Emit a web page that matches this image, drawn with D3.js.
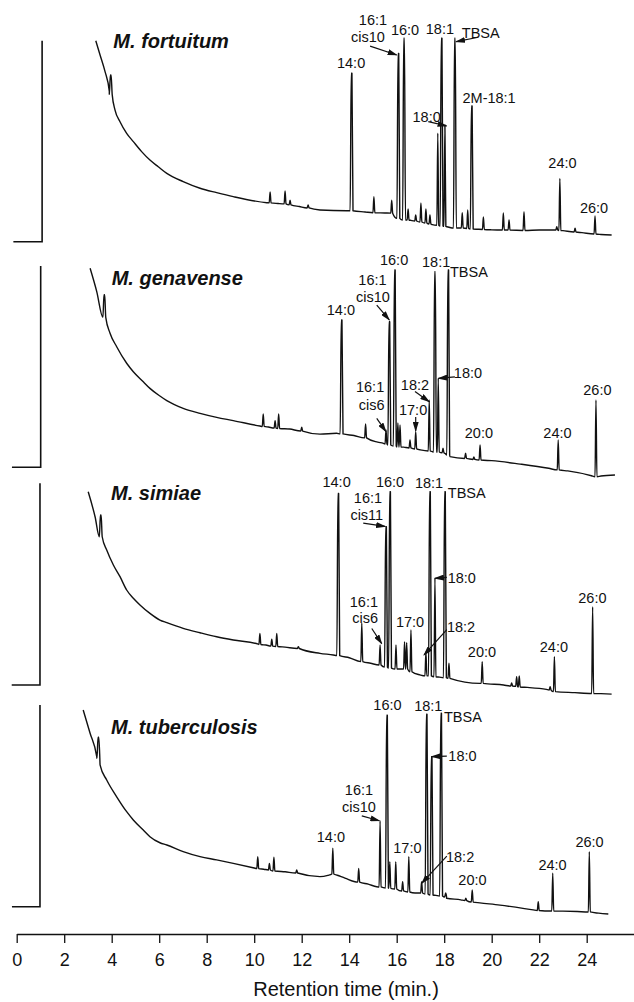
<!DOCTYPE html>
<html>
<head>
<meta charset="utf-8">
<script src="https://cdn.jsdelivr.net/npm/d3@7"></script>
<style>
  body { margin: 0; background: #fff; }
  text { font-family: "Liberation Sans", Arial, Helvetica, sans-serif; fill: #111; }
</style>
</head>
<body>
<div id="chart"></div>
<script>
// ---- data (retention time in min, detector signal in % of panel full scale) ----
const species = ["M. fortuitum", "M. genavense", "M. simiae", "M. tuberculosis"];
const timeTicks = [0, 2, 4, 6, 8, 10, 12, 14, 16, 18, 20, 22, 24];

// solvent step at the start of each run: [start time, step time]
const solventStep = [[-0.14, 1.07], [-0.2, 1.01], [-0.21, 0.98], [-0.2, 0.98]];

// baseline (solvent tail): [time, signal]
const fortuitumCurve = [[3.33,100],[3.51,92.9],[3.72,84.6],[3.9,74.8],[4.14,65.5],[4.35,59.7],[4.63,53.9],[4.91,49.8],[5.26,44.8],[5.61,40.6],[5.96,37.3],[6.32,34.0],[7.01,29.9],[7.72,26.6],[8.42,24.4],[9.12,22.4],[10.53,19.4],[11.0,19.0],[11.9,17.5],[12.77,15.8],[13.9,15.4],[14.67,14.8],[15.5,14.3],[16.6,10.6],[17.5,8.5],[18.2,7.2],[19.4,6.2],[20.0,5.9],[22.0,5.8],[23.0,5.5],[23.8,4.5],[24.6,3.6],[25.05,3.3]];
const genavenseCurve = [[3.09,98.9],[3.37,87.3],[3.93,66.6],[4.21,59.9],[4.63,51.7],[4.91,47.5],[5.33,42.5],[5.61,39.2],[6.03,35.4],[6.32,33.1],[7.01,29.3],[7.72,26.8],[8.42,24.8],[9.12,23.2],[10.24,20.5],[10.6,20],[11.5,19],[12.77,16.5],[13.47,16.9],[14.2,15.8],[15.2,12.5],[15.44,11.9],[16.3,10],[16.98,8.7],[17.5,7.8],[18.05,6.8],[18.24,5.3],[19.0,4.3],[20.0,3.3],[21.2,1.6],[22.4,-0.5],[23.2,-1.8],[24.2,-4.2],[24.6,-4.3],[25.19,-3.8]];
const simiaeCurve = [[3.01,95.8],[3.30,83.4],[3.79,66.9],[4.07,59.5],[4.35,53.7],[4.63,47.1],[4.91,43.0],[5.19,39.7],[5.61,35.5],[6.03,32.2],[6.32,30.9],[7.01,28.1],[7.72,25.9],[8.42,23.9],[9.12,22.3],[10.17,20.3],[10.5,19.8],[11.3,18.8],[12.77,15.7],[13.33,14.9],[14.0,13.5],[14.9,10.8],[16.0,7.9],[16.98,5],[17.8,3.9],[18.17,3.3],[19.5,0.8],[20.5,0],[21.5,-1.2],[22.3,-2.2],[23.5,-3.8],[24.6,-4.3],[25.05,-4.5]];
const tuberculosisCurve = [[2.8,97.5],[3.09,86.0],[3.37,74.4],[3.51,70.3],[3.79,62.8],[4.21,54.5],[4.63,47.1],[4.91,43.0],[5.33,38.0],[5.61,34.7],[6.03,31.7],[6.32,30.6],[7.01,27.3],[7.72,24.8],[8.42,23.2],[9.12,21.5],[10.0,19.2],[10.4,18.6],[11.3,17.3],[12.77,14.9],[13.1,15.5],[13.5,15.6],[13.82,14.2],[14.8,11.2],[15.16,9.9],[16.0,8.6],[16.77,6.8],[17.65,5.6],[18.1,4.2],[18.7,3.4],[19.5,1.9],[20.35,0.8],[21.75,-1.6],[22.24,-2.1],[23.0,-2.2],[23.6,-2.4],[24.5,-3.2],[24.91,-3.6]];

// peaks: [time, apex signal, foot signal]
const fortuitumPeaks = [[3.96,83,73.3],[10.67,24.7,19.3],[11.30,25.2,18.8],[11.51,20.7,18.3],[12.27,18.3,16.8],[14.10,83.8,15.4],[15.04,22.4,14.4],[15.79,20.7,14.2],[16.07,93.7,11.6],[16.31,101.2,10.8],[16.48,16.3,10.8],[16.80,13.3,10.3],[17.02,19.3,9.8],[17.23,16.3,9.3],[17.40,13.3,8.8],[17.73,54,8.2],[17.89,101.2,7.8],[18.03,58.1,7.6],[18.45,101.2,6.8],[18.76,14.4,6.8],[18.99,15.8,6.6],[19.16,67.5,6.3],[19.65,12.3,6.1],[20.49,14.3,5.8],[20.73,10.8,5.8],[21.36,14.9,5.6],[22.74,7.5,5.8],[22.87,31.5,5.6],[23.51,6.7,4.8],[24.35,12.8,3.8]];
const genavensePeaks = [[3.69,85.7,74.5],[10.38,26.5,20.3],[10.88,23.1,19.5],[11.03,26.5,19.3],[12.0,19.9,18],[13.68,73.2,16.6],[14.69,21.5,14.6],[15.55,18.5,11.6],[15.69,72.3,11.1],[15.92,98,10.6],[16.05,22,10.1],[16.14,21,10.1],[16.56,13.6,9.6],[16.80,17.7,9.1],[17.37,33.4,8.1],[17.61,97.2,7.6],[17.75,44.2,7.6],[17.95,9.5,7.2],[18.17,98,6.1],[18.9,7,4.4],[19.25,5.1,3.9],[19.51,11.1,3.6],[22.8,13.6,-1.3],[24.39,33.4,-4.7]];
const simiaePeaks = [[3.54,84.3,73.5],[10.24,25.6,20.1],[10.74,22.7,19.3],[10.95,25.6,19.1],[11.86,19,18.1],[13.54,95,14.6],[14.53,30.6,11.6],[15.30,19.8,9.9],[15.55,78.5,8.9],[15.72,95.8,8.4],[15.97,19.8,7.9],[16.33,21.5,7.9],[16.42,21,7.9],[16.60,27.3,6.6],[17.23,16.5,4.5],[17.40,95.8,4.5],[17.61,52.9,4.1],[18.03,95.8,3.6],[18.2,10.8,3.3],[19.6,11.6,0.8],[20.84,1,-0.5],[21.05,4.1,-0.7],[21.16,4.5,-1],[22.46,-0.8,-2.5],[22.64,14,-3.3],[24.25,38.8,-4.2]];
const tuberculosisPeaks = [[3.44,84,73.6],[10.15,24.8,18.9],[10.64,21.5,18.2],[10.83,24.5,17.7],[11.79,18.2,16.7],[13.31,29,16.2],[14.4,19,12.2],[15.30,42.6,9.8],[15.59,95,9.3],[15.71,22.3,9.1],[15.96,22.3,8.8],[16.25,12.4,7.8],[16.51,24.8,7.3],[17.05,12.4,6.8],[17.26,95.5,6.3],[17.47,74.4,5.8],[17.87,95.9,5.3],[18.06,6.8,4.8],[18.91,4.2,3],[19.18,8.3,2.3],[21.96,2.5,-1.9],[22.57,16.6,-2.1],[24.11,27.3,-2.6]];

// peak labels: [text, time, signal]
const fortuitumLabels = [["14:0",14.08,86.3],["16:1",15.0,107.8],["cis10",14.79,99.2],["16:0",16.35,102.8],["18:1",17.82,103.2],["TBSA",19.54,101.2],["18:0",17.26,59.7],["2M-18:1",19.89,68.9],["24:0",22.98,36.5],["26:0",24.31,14.1]];
const genavenseLabels = [["14:0",13.65,75.7],["16:1",14.98,90.7],["cis10",15.0,82.1],["16:0",15.89,100.5],["16:1",14.88,37.6],["cis6",14.95,28.5],["17:0",16.69,26],["18:2",16.77,38.4],["18:1",17.66,99.7],["18:0",19.0,44.2],["TBSA",19.04,94.7],["20:0",19.46,14.4],["24:0",22.77,14.4],["26:0",24.45,35.9]];
const simiaeLabels = [["14:0",13.47,98.3],["16:1",14.79,90.1],["cis11",14.74,81.8],["16:0",15.72,98.3],["16:1",14.62,38.8],["cis6",14.67,30.6],["17:0",16.56,28.9],["18:2",18.71,26.4],["18:1",17.36,97.5],["18:0",18.74,50.4],["TBSA",18.95,92.9],["20:0",19.59,14],["24:0",22.62,16.5],["26:0",24.24,40.5]];
const tuberculosisLabels = [["14:0",13.23,32.2],["16:1",14.41,55.4],["cis10",14.41,47.1],["16:0",15.61,97.5],["17:0",16.45,26.5],["18:2",18.67,22.3],["18:1",17.33,97],["18:0",18.77,72.4],["TBSA",18.79,91.7],["20:0",19.19,10.8],["24:0",22.56,18.2],["26:0",24.12,29.7]];

// pointer arrows: [from time, from signal, to time, to signal]
const fortuitumArrows = [[14.88,97.3,16.0,92.9],[17.33,59.7,18.1,57.6],[19.44,101.7,18.5,99.5]];
const genavenseArrows = [[15.16,80.6,15.69,73.2],[15.16,24.3,15.55,17.7],[16.8,25,16.8,18],[16.77,37.6,17.37,32.6],[18.45,44.9,17.75,44.2]];
const simiaeArrows = [[14.59,80.3,15.51,78.6],[14.95,28,15.37,20.5],[18.11,27.5,17.15,14.9],[18.11,53.4,17.61,52.9]];
const tuberculosisArrows = [[14.53,45,15.27,42.6],[18.11,25.1,17.05,11.6],[18.11,74.7,17.47,74.4]];

// species name anchor: [time, signal]
const nameAt = [[4.07,96.5],[4.0,90.6],[3.97,91.7],[3.97,85.6]];

const curves = [fortuitumCurve, genavenseCurve, simiaeCurve, tuberculosisCurve];
const peaks = [fortuitumPeaks, genavensePeaks, simiaePeaks, tuberculosisPeaks];
const labels = [fortuitumLabels, genavenseLabels, simiaeLabels, tuberculosisLabels];
const arrows = [fortuitumArrows, genavenseArrows, simiaeArrows, tuberculosisArrows];

// ---- layout ----
const width = 634, height = 1002;
const panelBox = [[40.7, 241.7], [266, 467.3], [483.3, 685], [705, 906.7]]; // [top, bottom] px
const axisY = 934;

const x = d3.scaleLinear().domain([0, 26]).range([16.7, 634.2]);

const svg = d3.select("#chart").append("svg")
    .attr("width", width)
    .attr("height", height)
    .style("background", "#fff");

svg.append("defs").append("marker")
    .attr("id", "head")
    .attr("markerUnits", "userSpaceOnUse")
    .attr("markerWidth", 10)
    .attr("markerHeight", 6)
    .attr("refX", 9)
    .attr("refY", 3)
    .attr("orient", "auto")
    .append("path")
    .attr("d", "M0,0 L10,3 L0,6 Z")
    .attr("fill", "#111");

// build one trace from the baseline anchors and the peaks
function tracePoints(curve, pk) {
    const pts = [];
    const hw = p => p[1] > 60 ? 0.06 : 0.04;
    curve.forEach(c => {
        if (!pk.some(p => Math.abs(c[0] - p[0]) <= hw(p))) pts.push([c[0], c[1]]);
    });
    pk.forEach(p => {
        const w = hw(p);
        pts.push([p[0] - w, p[2]]);
        if (p[1] > 60) {
            pts.push([p[0] - 0.015, p[1]]);
            pts.push([p[0] + 0.015, p[1]]);
        } else {
            pts.push([p[0], p[1]]);
        }
        pts.push([p[0] + w, p[2]]);
    });
    return pts.sort((a, b) => a[0] - b[0]);
}

species.forEach((name, i) => {
    const [top, bottom] = panelBox[i];
    const y = d3.scaleLinear().domain([0, 100]).range([bottom, top]);
    const g = svg.append("g").attr("class", "panel");

    const line = d3.line().x(d => x(d[0])).y(d => y(d[1]));

    // solvent step
    const [s0, s1] = solventStep[i];
    g.append("path")
        .attr("d", line([[s0, 0], [s1, 0], [s1, 100]]))
        .attr("fill", "none")
        .attr("stroke", "#111")
        .attr("stroke-width", 1.6);

    // chromatogram trace
    g.append("path")
        .attr("d", line.curve(d3.curveMonotoneX)(tracePoints(curves[i], peaks[i])))
        .attr("fill", "none")
        .attr("stroke", "#111")
        .attr("stroke-width", 1.4)
        .attr("stroke-linejoin", "round");

    // pointer arrows
    g.selectAll(".arrow")
        .data(arrows[i])
        .join("line")
        .attr("class", "arrow")
        .attr("x1", d => x(d[0]))
        .attr("y1", d => y(d[1]))
        .attr("x2", d => x(d[2]))
        .attr("y2", d => y(d[3]))
        .attr("stroke", "#111")
        .attr("stroke-width", 1.2)
        .attr("marker-end", "url(#head)");

    // peak labels
    g.selectAll(".lab")
        .data(labels[i])
        .join("text")
        .attr("class", "lab")
        .attr("x", d => x(d[1]))
        .attr("y", d => y(d[2]))
        .attr("text-anchor", "middle")
        .style("font-size", "14.5px")
        .text(d => d[0]);

    // species name
    g.append("text")
        .attr("x", x(nameAt[i][0]))
        .attr("y", y(nameAt[i][1]))
        .style("font-size", "20px")
        .style("font-weight", "bold")
        .style("font-style", "italic")
        .text(name);
});

// time axis
const axis = svg.append("g")
    .attr("transform", `translate(0,${axisY})`)
    .call(d3.axisBottom(x).tickValues(timeTicks).tickSize(9).tickSizeOuter(0).tickPadding(10.5));
axis.select(".domain").attr("stroke", "#111").attr("stroke-width", 1.6);
axis.selectAll(".tick line").attr("stroke", "#111").attr("stroke-width", 1.3);
axis.selectAll(".tick text")
    .style("font-size", "18px")
    .style("font-family", "'Liberation Sans', Arial, sans-serif")
    .attr("fill", "#111");

svg.append("text")
    .attr("x", 346)
    .attr("y", 996)
    .attr("text-anchor", "middle")
    .style("font-size", "20px")
    .text("Retention time (min.)");
</script>
</body>
</html>
